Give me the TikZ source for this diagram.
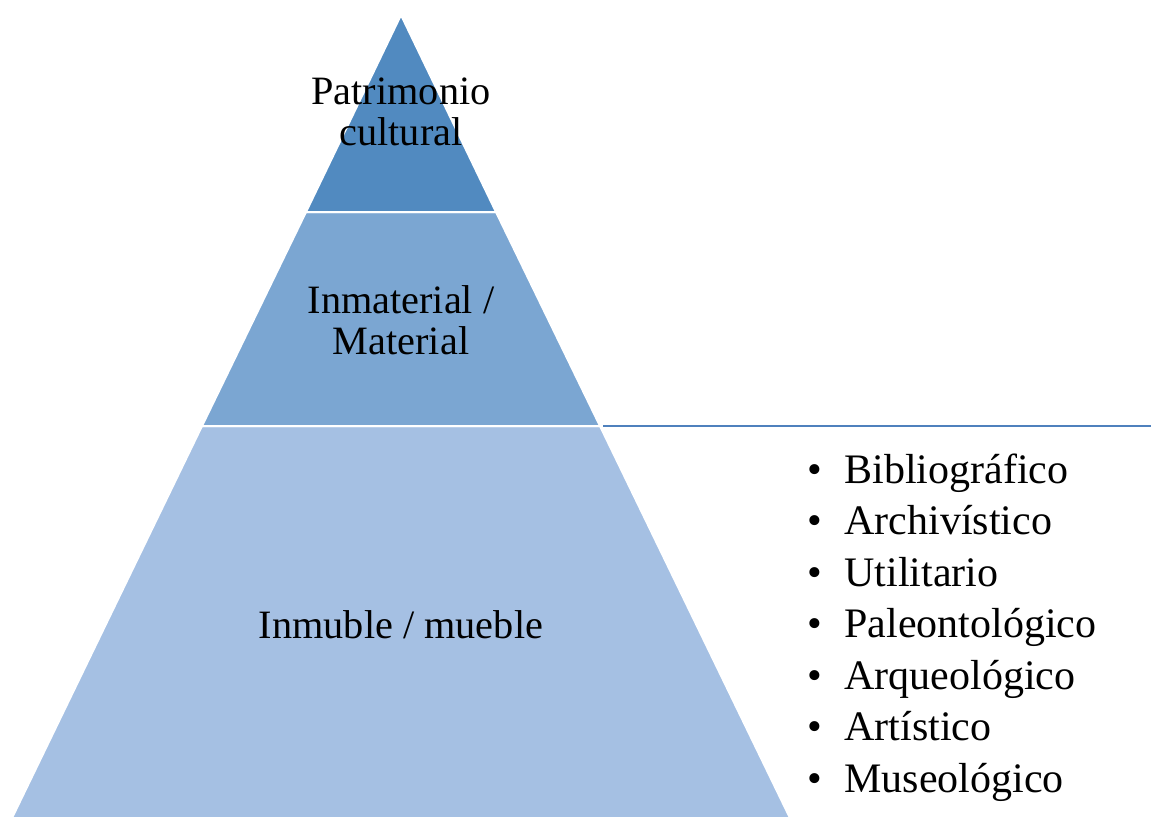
\documentclass[tikz,border=0pt]{standalone}
\usepackage{fontspec}
\setmainfont{Liberation Serif}
\definecolor{topband}{RGB}{81,138,192}
\definecolor{midband}{RGB}{123,166,210}
\definecolor{lowband}{RGB}{165,192,227}
\definecolor{rule}{RGB}{79,129,189}
\begin{document}
\begin{tikzpicture}[x=0.75pt,y=-0.75pt,
  band/.style={draw=white, line width=1.5pt},
  level/.style={font=\fontsize{30.2}{30.75}\selectfont, align=center, inner sep=0pt},
  entry/.style={font=\fontsize{31.5}{38}\selectfont, anchor=base west, inner sep=0pt}]
\useasboundingbox (0,0) rectangle (1151,818);
\fill[white] (0,0) rectangle (1151,818);

% pyramid
\filldraw[band, fill=lowband] (202,426) -- (600,426) -- (790,818) -- (12,818) -- cycle;
\filldraw[band, fill=midband] (306,212) -- (496,212) -- (600,426) -- (202,426) -- cycle;
\filldraw[band, fill=topband] (401,15) -- (496,212) -- (306,212) -- cycle;

\node[level] (top) at (401,112) {Patrimonio\\cultural};
\node[level] (mid) at (401,320) {Inmaterial /\\Material};
\node[level] (low) at (401,625) {Inmuble / mueble};

% list of types
\coordinate (corner) at (603,426);
\coordinate (edge) at (1151,426);
\draw[rule, line width=2pt] (corner) -- (edge);

\foreach \txt [count=\i from 0] in {Bibliográfico,Archivístico,Utilitario,Paleontológico,Arqueológico,Artístico,Museológico}
  \node[entry] (item\i) at (807,{483+51.5*\i}) {\makebox[28pt][l]{\textbullet}\txt};
\end{tikzpicture}
\end{document}
